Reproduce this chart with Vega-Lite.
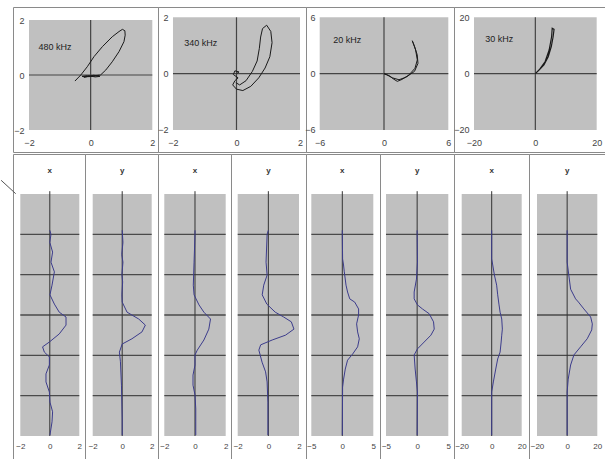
{
  "$schema": "https://vega.github.io/schema/vega-lite/v6.json",
  "padding": {"left": 0, "top": 6, "right": 0, "bottom": 0},
  "background": "white",
  "config": {
    "view": {"stroke": "#8a8a8a", "strokeWidth": 1},
    "concat": {"spacing": 0},
    "axis": {"domain": false, "ticks": false, "grid": false, "labelFontSize": 9, "labelColor": "#444", "labelFlush": false, "labelOverlap": false, "zindex": 1}
  },
  "datasets": {
    "hodo": [
      {"p":1,"i":0,"x":-0.51,"y":-0.22},{"p":1,"i":1,"x":-0.32,"y":0.0},{"p":1,"i":2,"x":-0.11,"y":0.3},{"p":1,"i":3,"x":0.11,"y":0.67},{"p":1,"i":4,"x":0.38,"y":1.03},{"p":1,"i":5,"x":0.7,"y":1.39},{"p":1,"i":6,"x":0.92,"y":1.58},{"p":1,"i":7,"x":1.03,"y":1.66},{"p":1,"i":8,"x":1.11,"y":1.61},{"p":1,"i":9,"x":1.12,"y":1.45},{"p":1,"i":10,"x":1.08,"y":1.21},{"p":1,"i":11,"x":0.92,"y":0.85},{"p":1,"i":12,"x":0.7,"y":0.48},{"p":1,"i":13,"x":0.49,"y":0.18},{"p":1,"i":14,"x":0.32,"y":0.0},{"p":1,"i":15,"x":0.15,"y":-0.04},{"p":1,"i":16,"x":-0.05,"y":-0.06},{"p":1,"i":17,"x":-0.28,"y":-0.05},{"p":1,"i":18,"x":-0.1,"y":-0.02},{"p":1,"i":19,"x":0.15,"y":-0.07},{"p":1,"i":20,"x":0.3,"y":-0.05},{"p":1,"i":21,"x":0.1,"y":-0.01},{"p":1,"i":22,"x":-0.22,"y":-0.08},{"p":1,"i":23,"x":0.05,"y":-0.03},{"p":1,"i":24,"x":0.27,"y":-0.01},
      {"p":2,"i":0,"x":0.0,"y":0.0},{"p":2,"i":1,"x":0.08,"y":0.06},{"p":2,"i":2,"x":-0.05,"y":0.1},{"p":2,"i":3,"x":-0.1,"y":-0.03},{"p":2,"i":4,"x":0.05,"y":-0.15},{"p":2,"i":5,"x":-0.05,"y":-0.25},{"p":2,"i":6,"x":-0.12,"y":-0.4},{"p":2,"i":7,"x":0.0,"y":-0.55},{"p":2,"i":8,"x":0.2,"y":-0.6},{"p":2,"i":9,"x":0.45,"y":-0.45},{"p":2,"i":10,"x":0.7,"y":-0.15},{"p":2,"i":11,"x":0.9,"y":0.2},{"p":2,"i":12,"x":1.05,"y":0.6},{"p":2,"i":13,"x":1.12,"y":1.1},{"p":2,"i":14,"x":1.08,"y":1.5},{"p":2,"i":15,"x":0.95,"y":1.72},{"p":2,"i":16,"x":0.82,"y":1.6},{"p":2,"i":17,"x":0.76,"y":1.3},{"p":2,"i":18,"x":0.72,"y":0.9},{"p":2,"i":19,"x":0.65,"y":0.45},{"p":2,"i":20,"x":0.5,"y":0.08},{"p":2,"i":21,"x":0.3,"y":-0.25},{"p":2,"i":22,"x":0.1,"y":-0.4},{"p":2,"i":23,"x":-0.02,"y":-0.32},
      {"p":3,"i":0,"x":0.0,"y":0.0},{"p":3,"i":1,"x":0.47,"y":-0.21},{"p":3,"i":2,"x":0.93,"y":-0.6},{"p":3,"i":3,"x":1.24,"y":-0.82},{"p":3,"i":4,"x":1.71,"y":-0.6},{"p":3,"i":5,"x":2.33,"y":-0.14},{"p":3,"i":6,"x":2.89,"y":0.57},{"p":3,"i":7,"x":3.11,"y":1.46},{"p":3,"i":8,"x":2.95,"y":2.52},{"p":3,"i":9,"x":2.73,"y":3.23},{"p":3,"i":10,"x":2.64,"y":3.5},{"p":3,"i":11,"x":2.85,"y":2.9},{"p":3,"i":12,"x":3.1,"y":2.0},{"p":3,"i":13,"x":3.17,"y":1.1},{"p":3,"i":14,"x":2.85,"y":0.25},{"p":3,"i":15,"x":2.1,"y":-0.35},{"p":3,"i":16,"x":1.4,"y":-0.65},{"p":3,"i":17,"x":0.8,"y":-0.45},{"p":3,"i":18,"x":0.25,"y":-0.12},{"p":3,"i":19,"x":0.0,"y":0.0},
      {"p":4,"i":0,"x":0.0,"y":0.0},{"p":4,"i":1,"x":1.2,"y":1.3},{"p":4,"i":2,"x":2.8,"y":3.1},{"p":4,"i":3,"x":4.2,"y":6.0},{"p":4,"i":4,"x":5.2,"y":9.6},{"p":4,"i":5,"x":5.8,"y":13.1},{"p":4,"i":6,"x":6.1,"y":15.7},{"p":4,"i":7,"x":5.5,"y":16.1},{"p":4,"i":8,"x":5.3,"y":13.1},{"p":4,"i":9,"x":4.5,"y":8.4},{"p":4,"i":10,"x":3.2,"y":4.3},{"p":4,"i":11,"x":1.4,"y":1.5},{"p":4,"i":12,"x":0.3,"y":0.35}
    ],
    "prof": [
      {"p":1,"y":5.1,"x":0.0},{"p":1,"y":5.0,"x":0.08},{"p":1,"y":4.8,"x":0.0},{"p":1,"y":4.56,"x":0.19},{"p":1,"y":4.31,"x":0.08},{"p":1,"y":4.07,"x":0.31},{"p":1,"y":3.74,"x":0.15},{"p":1,"y":3.5,"x":0.01},{"p":1,"y":3.27,"x":0.31},{"p":1,"y":3.07,"x":0.64},{"p":1,"y":2.95,"x":1.1},{"p":1,"y":2.75,"x":1.1},{"p":1,"y":2.53,"x":0.64},{"p":1,"y":2.33,"x":-0.03},{"p":1,"y":2.21,"x":-0.49},{"p":1,"y":2.08,"x":-0.37},{"p":1,"y":1.96,"x":-0.03},{"p":1,"y":1.76,"x":-0.03},{"p":1,"y":1.54,"x":-0.26},{"p":1,"y":1.34,"x":-0.26},{"p":1,"y":1.09,"x":-0.03},{"p":1,"y":0.84,"x":0.01},{"p":1,"y":0.6,"x":0.19},{"p":1,"y":0.35,"x":0.15},{"p":1,"y":0.02,"x":0.01},
      {"p":2,"y":5.1,"x":0.0},{"p":2,"y":4.8,"x":0.05},{"p":2,"y":4.5,"x":-0.03},{"p":2,"y":4.31,"x":0.05},{"p":2,"y":4.0,"x":-0.02},{"p":2,"y":3.82,"x":0.03},{"p":2,"y":3.5,"x":-0.02},{"p":2,"y":3.32,"x":0.0},{"p":2,"y":3.07,"x":0.33},{"p":2,"y":2.9,"x":1.12},{"p":2,"y":2.75,"x":1.57},{"p":2,"y":2.58,"x":1.34},{"p":2,"y":2.41,"x":0.66},{"p":2,"y":2.28,"x":0.0},{"p":2,"y":2.08,"x":-0.19},{"p":2,"y":1.84,"x":-0.12},{"p":2,"y":1.26,"x":-0.05},{"p":2,"y":0.42,"x":0.0},{"p":2,"y":0.02,"x":0.0},
      {"p":3,"y":5.1,"x":0.0},{"p":3,"y":5.0,"x":0.0},{"p":3,"y":4.31,"x":-0.06},{"p":3,"y":3.74,"x":-0.11},{"p":3,"y":3.5,"x":-0.06},{"p":3,"y":3.25,"x":0.26},{"p":3,"y":3.07,"x":0.58},{"p":3,"y":2.9,"x":1.01},{"p":3,"y":2.65,"x":0.9},{"p":3,"y":2.38,"x":0.58},{"p":3,"y":2.13,"x":0.15},{"p":3,"y":2.01,"x":0.0},{"p":3,"y":1.76,"x":0.0},{"p":3,"y":1.51,"x":-0.13},{"p":3,"y":1.26,"x":-0.13},{"p":3,"y":1.02,"x":0.0},{"p":3,"y":0.67,"x":0.05},{"p":3,"y":0.35,"x":0.05},{"p":3,"y":0.02,"x":0.05},
      {"p":4,"y":5.1,"x":0.0},{"p":4,"y":5.0,"x":-0.08},{"p":4,"y":4.31,"x":-0.15},{"p":4,"y":3.99,"x":-0.08},{"p":4,"y":3.74,"x":-0.3},{"p":4,"y":3.5,"x":-0.4},{"p":4,"y":3.27,"x":-0.1},{"p":4,"y":3.07,"x":0.45},{"p":4,"y":2.95,"x":1.0},{"p":4,"y":2.83,"x":1.5},{"p":4,"y":2.65,"x":1.67},{"p":4,"y":2.5,"x":1.12},{"p":4,"y":2.38,"x":0.25},{"p":4,"y":2.26,"x":-0.5},{"p":4,"y":2.13,"x":-0.62},{"p":4,"y":1.83,"x":-0.41},{"p":4,"y":1.59,"x":-0.18},{"p":4,"y":1.34,"x":-0.08},{"p":4,"y":0.84,"x":-0.03},{"p":4,"y":0.02,"x":-0.03},
      {"p":5,"y":5.1,"x":0.0},{"p":5,"y":5.0,"x":0.0},{"p":5,"y":4.39,"x":0.05},{"p":5,"y":4.24,"x":0.2},{"p":5,"y":4.07,"x":0.32},{"p":5,"y":3.74,"x":0.6},{"p":5,"y":3.57,"x":0.85},{"p":5,"y":3.4,"x":1.2},{"p":5,"y":3.32,"x":2.0},{"p":5,"y":3.15,"x":2.63},{"p":5,"y":3.0,"x":2.63},{"p":5,"y":2.78,"x":2.31},{"p":5,"y":2.58,"x":2.47},{"p":5,"y":2.41,"x":2.74},{"p":5,"y":2.21,"x":2.47},{"p":5,"y":2.03,"x":1.66},{"p":5,"y":1.88,"x":0.85},{"p":5,"y":1.66,"x":0.48},{"p":5,"y":1.41,"x":0.21},{"p":5,"y":1.21,"x":0.05},{"p":5,"y":0.02,"x":0.0},
      {"p":6,"y":5.1,"x":0.0},{"p":6,"y":5.0,"x":0.0},{"p":6,"y":4.31,"x":0.05},{"p":6,"y":3.89,"x":-0.11},{"p":6,"y":3.57,"x":-0.48},{"p":6,"y":3.4,"x":-0.48},{"p":6,"y":3.25,"x":0.05},{"p":6,"y":3.15,"x":0.85},{"p":6,"y":3.03,"x":1.94},{"p":6,"y":2.83,"x":2.63},{"p":6,"y":2.65,"x":2.74},{"p":6,"y":2.5,"x":2.21},{"p":6,"y":2.33,"x":1.13},{"p":6,"y":2.16,"x":0.05},{"p":6,"y":2.01,"x":-0.48},{"p":6,"y":1.66,"x":-0.32},{"p":6,"y":1.34,"x":-0.11},{"p":6,"y":1.09,"x":0.05},{"p":6,"y":0.02,"x":0.0},
      {"p":7,"y":5.1,"x":0.0},{"p":7,"y":5.0,"x":0.0},{"p":7,"y":4.39,"x":0.0},{"p":7,"y":4.24,"x":0.7},{"p":7,"y":3.99,"x":1.8},{"p":7,"y":3.74,"x":3.3},{"p":7,"y":3.5,"x":4.0},{"p":7,"y":3.25,"x":4.9},{"p":7,"y":3.07,"x":5.6},{"p":7,"y":2.9,"x":6.7},{"p":7,"y":2.65,"x":7.1},{"p":7,"y":2.5,"x":6.7},{"p":7,"y":2.33,"x":6.3},{"p":7,"y":2.08,"x":5.6},{"p":7,"y":1.91,"x":4.0},{"p":7,"y":1.66,"x":2.7},{"p":7,"y":1.34,"x":1.1},{"p":7,"y":1.09,"x":0.0},{"p":7,"y":0.02,"x":0.0},
      {"p":8,"y":5.1,"x":0.0},{"p":8,"y":5.0,"x":0.0},{"p":8,"y":4.31,"x":0.0},{"p":8,"y":3.99,"x":1.1},{"p":8,"y":3.64,"x":2.3},{"p":8,"y":3.4,"x":5.6},{"p":8,"y":3.32,"x":7.5},{"p":8,"y":3.15,"x":11.1},{"p":8,"y":2.95,"x":15.6},{"p":8,"y":2.78,"x":16.7},{"p":8,"y":2.63,"x":16.3},{"p":8,"y":2.41,"x":13.3},{"p":8,"y":2.21,"x":8.9},{"p":8,"y":2.01,"x":4.5},{"p":8,"y":1.76,"x":2.3},{"p":8,"y":1.41,"x":0.7},{"p":8,"y":1.09,"x":0.0},{"p":8,"y":0.02,"x":0.0}
    ]
  },
  "vconcat": [
    {
      "spacing": 0,
      "bounds": "flush",
      "hconcat": [
        {
          "width": 145, "height": 145,
          "encoding": {
            "x": {"field": "x", "type": "quantitative", "title": null, "scale": {"domain": [-2.519, 2.185], "nice": false, "zero": false}, "axis": {"values": [-2, 0, 2], "offset": -22, "labelPadding": 8}},
            "y": {"field": "y", "type": "quantitative", "title": null, "scale": {"domain": [-2.8, 2.473], "nice": false, "zero": false}, "axis": {"values": [-2, 0, 2], "offset": -16, "labelPadding": 5}}
          },
          "layer": [
            {"data": {"values": [{"x": -2, "x2": 2, "y": -2, "y2": 2}]}, "mark": {"type": "rect", "color": "#c0c0c0"}, "encoding": {"x2": {"field": "x2"}, "y2": {"field": "y2"}}},
            {"data": {"values": [{"x": 0, "y": -2, "y2": 2}]}, "mark": {"type": "rule", "color": "#444", "strokeWidth": 1.2}, "encoding": {"y2": {"field": "y2"}}},
            {"data": {"values": [{"x": -2, "x2": 2, "y": 0}]}, "mark": {"type": "rule", "color": "#444", "strokeWidth": 1.2}, "encoding": {"x2": {"field": "x2"}}},
            {"data": {"name": "hodo"}, "transform": [{"filter": "datum.p == 1"}], "mark": {"type": "line", "color": "#1a1a1a", "strokeWidth": 1}, "encoding": {"order": {"field": "i", "type": "quantitative"}}},
            {"data": {"values": [{"x": -1.157, "y": 1.018, "t": "480 kHz"}]}, "mark": {"type": "text", "fontSize": 9, "font": "Liberation Sans", "color": "#222"}, "encoding": {"text": {"field": "t"}}}
          ]
        },
        {
          "width": 148, "height": 145,
          "encoding": {
            "x": {"field": "x", "type": "quantitative", "title": null, "scale": {"domain": [-2.472, 2.189], "nice": false, "zero": false}, "axis": {"values": [-2, 0, 2], "offset": -22, "labelPadding": 8}},
            "y": {"field": "y", "type": "quantitative", "title": null, "scale": {"domain": [-2.781, 2.366], "nice": false, "zero": false}, "axis": {"values": [-2, 0, 2], "offset": -15, "labelPadding": 5}}
          },
          "layer": [
            {"data": {"values": [{"x": -2, "x2": 2, "y": -2, "y2": 2}]}, "mark": {"type": "rect", "color": "#c0c0c0"}, "encoding": {"x2": {"field": "x2"}, "y2": {"field": "y2"}}},
            {"data": {"values": [{"x": 0, "y": -2, "y2": 2}]}, "mark": {"type": "rule", "color": "#444", "strokeWidth": 1.2}, "encoding": {"y2": {"field": "y2"}}},
            {"data": {"values": [{"x": -2, "x2": 2, "y": 0}]}, "mark": {"type": "rule", "color": "#444", "strokeWidth": 1.2}, "encoding": {"x2": {"field": "x2"}}},
            {"data": {"name": "hodo"}, "transform": [{"filter": "datum.p == 2"}], "mark": {"type": "line", "color": "#1a1a1a", "strokeWidth": 1}, "encoding": {"order": {"field": "i", "type": "quantitative"}}},
            {"data": {"values": [{"x": -1.127, "y": 1.088, "t": "340 kHz"}]}, "mark": {"type": "text", "fontSize": 9, "font": "Liberation Sans", "color": "#222"}, "encoding": {"text": {"field": "t"}}}
          ]
        },
        {
          "width": 148, "height": 145,
          "encoding": {
            "x": {"field": "x", "type": "quantitative", "title": null, "scale": {"domain": [-7.278, 6.532], "nice": false, "zero": false}, "axis": {"values": [-6, 0, 6], "offset": -22, "labelPadding": 8}},
            "y": {"field": "y", "type": "quantitative", "title": null, "scale": {"domain": [-8.343, 7.097], "nice": false, "zero": false}, "axis": {"values": [-6, 0, 6], "offset": -14, "labelPadding": 5}}
          },
          "layer": [
            {"data": {"values": [{"x": -6, "x2": 6, "y": -6, "y2": 6}]}, "mark": {"type": "rect", "color": "#c0c0c0"}, "encoding": {"x2": {"field": "x2"}, "y2": {"field": "y2"}}},
            {"data": {"values": [{"x": 0, "y": -6, "y2": 6}]}, "mark": {"type": "rule", "color": "#444", "strokeWidth": 1.2}, "encoding": {"y2": {"field": "y2"}}},
            {"data": {"values": [{"x": -6, "x2": 6, "y": 0}]}, "mark": {"type": "rule", "color": "#444", "strokeWidth": 1.2}, "encoding": {"x2": {"field": "x2"}}},
            {"data": {"name": "hodo"}, "transform": [{"filter": "datum.p == 3"}], "mark": {"type": "line", "color": "#1a1a1a", "strokeWidth": 1}, "encoding": {"order": {"field": "i", "type": "quantitative"}}},
            {"data": {"values": [{"x": -3.425, "y": 3.583, "t": "20 kHz"}]}, "mark": {"type": "text", "fontSize": 9, "font": "Liberation Sans", "color": "#222"}, "encoding": {"text": {"field": "t"}}}
          ]
        },
        {
          "width": 151, "height": 145,
          "encoding": {
            "x": {"field": "x", "type": "quantitative", "title": null, "scale": {"domain": [-26.52, 22.71], "nice": false, "zero": false}, "axis": {"values": [-20, 0, 20], "offset": -22, "labelPadding": 8}},
            "y": {"field": "y", "type": "quantitative", "title": null, "scale": {"domain": [-27.81, 23.66], "nice": false, "zero": false}, "axis": {"values": [-20, 0, 20], "offset": -20, "labelPadding": 5}}
          },
          "layer": [
            {"data": {"values": [{"x": -20, "x2": 20, "y": -20, "y2": 20}]}, "mark": {"type": "rect", "color": "#c0c0c0"}, "encoding": {"x2": {"field": "x2"}, "y2": {"field": "y2"}}},
            {"data": {"values": [{"x": 0, "y": -20, "y2": 20}]}, "mark": {"type": "rule", "color": "#444", "strokeWidth": 1.2}, "encoding": {"y2": {"field": "y2"}}},
            {"data": {"values": [{"x": -20, "x2": 20, "y": 0}]}, "mark": {"type": "rule", "color": "#444", "strokeWidth": 1.2}, "encoding": {"x2": {"field": "x2"}}},
            {"data": {"name": "hodo"}, "transform": [{"filter": "datum.p == 4"}], "mark": {"type": "line", "color": "#1a1a1a", "strokeWidth": 1.2}, "encoding": {"order": {"field": "i", "type": "quantitative"}}},
            {"data": {"values": [{"x": -11.75, "y": 12.2, "t": "30 kHz"}]}, "mark": {"type": "text", "fontSize": 9, "font": "Liberation Sans", "color": "#222"}, "encoding": {"text": {"field": "t"}}}
          ]
        }
      ]
    },
    {
      "spacing": 0,
      "bounds": "flush",
      "hconcat": [
        {
          "width": 72, "height": 308,
          "encoding": {
            "x": {"field": "x", "type": "quantitative", "title": null, "scale": {"domain": [-2.495, 2.386], "nice": false, "zero": false}, "axis": {"values": [-2, 0, 2], "offset": -26, "labelPadding": 6, "labelFontSize": 8}},
            "y": {"field": "y", "type": "quantitative", "title": null, "scale": {"domain": [-0.645, 6.992], "nice": false, "zero": false}, "axis": null}
          },
          "layer": [
            {"data": {"values": [{"x": -2, "x2": 2, "y": 0, "y2": 6}]}, "mark": {"type": "rect", "color": "#c0c0c0"}, "encoding": {"x2": {"field": "x2"}, "y2": {"field": "y2"}}},
            {"data": {"values": [{"x": -2, "x2": 2, "y": 1}, {"x": -2, "x2": 2, "y": 2}, {"x": -2, "x2": 2, "y": 3}, {"x": -2, "x2": 2, "y": 4}, {"x": -2, "x2": 2, "y": 5}]}, "mark": {"type": "rule", "color": "#4a4a4a", "strokeWidth": 1.3}, "encoding": {"x2": {"field": "x2"}}},
            {"data": {"values": [{"x": 0, "y": 0, "y2": 6.07}]}, "mark": {"type": "rule", "color": "#333", "strokeWidth": 1}, "encoding": {"y2": {"field": "y2"}}},
            {"data": {"name": "prof"}, "transform": [{"filter": "datum.p == 1"}], "mark": {"type": "line", "color": "#3c3c8c", "strokeWidth": 1}, "encoding": {"order": {"field": "y", "type": "quantitative"}}},
            {"data": {"values": [{"x": -3.3, "y": 6.34}, {"x": -2.312, "y": 6.008}]}, "mark": {"type": "line", "color": "#555", "strokeWidth": 1, "strokeJoin": "round"}, "encoding": {}},
            {"data": {"values": [{"x": 0, "y": 6.57, "t": "x"}]}, "mark": {"type": "text", "fontSize": 8, "fontWeight": "bold", "color": "#333"}, "encoding": {"text": {"field": "t"}}}
          ]
        },
        {
          "width": 73, "height": 308,
          "encoding": {
            "x": {"field": "x", "type": "quantitative", "title": null, "scale": {"domain": [-2.522, 2.427], "nice": false, "zero": false}, "axis": {"values": [-2, 0, 2], "offset": -26, "labelPadding": 6, "labelFontSize": 8}},
            "y": {"field": "y", "type": "quantitative", "title": null, "scale": {"domain": [-0.645, 6.992], "nice": false, "zero": false}, "axis": null}
          },
          "layer": [
            {"data": {"values": [{"x": -2, "x2": 2, "y": 0, "y2": 6}]}, "mark": {"type": "rect", "color": "#c0c0c0"}, "encoding": {"x2": {"field": "x2"}, "y2": {"field": "y2"}}},
            {"data": {"values": [{"x": -2, "x2": 2, "y": 1}, {"x": -2, "x2": 2, "y": 2}, {"x": -2, "x2": 2, "y": 3}, {"x": -2, "x2": 2, "y": 4}, {"x": -2, "x2": 2, "y": 5}]}, "mark": {"type": "rule", "color": "#4a4a4a", "strokeWidth": 1.3}, "encoding": {"x2": {"field": "x2"}}},
            {"data": {"values": [{"x": 0, "y": 0, "y2": 6.07}]}, "mark": {"type": "rule", "color": "#333", "strokeWidth": 1}, "encoding": {"y2": {"field": "y2"}}},
            {"data": {"name": "prof"}, "transform": [{"filter": "datum.p == 2"}], "mark": {"type": "line", "color": "#3c3c8c", "strokeWidth": 1}, "encoding": {"order": {"field": "y", "type": "quantitative"}}},
            {"data": {"values": [{"x": 0, "y": 6.57, "t": "y"}]}, "mark": {"type": "text", "fontSize": 8, "fontWeight": "bold", "color": "#333"}, "encoding": {"text": {"field": "t"}}}
          ]
        },
        {
          "width": 73, "height": 308,
          "encoding": {
            "x": {"field": "x", "type": "quantitative", "title": null, "scale": {"domain": [-2.41, 2.345], "nice": false, "zero": false}, "axis": {"values": [-2, 0, 2], "offset": -26, "labelPadding": 6, "labelFontSize": 8}},
            "y": {"field": "y", "type": "quantitative", "title": null, "scale": {"domain": [-0.645, 6.992], "nice": false, "zero": false}, "axis": null}
          },
          "layer": [
            {"data": {"values": [{"x": -2, "x2": 2, "y": 0, "y2": 6}]}, "mark": {"type": "rect", "color": "#c0c0c0"}, "encoding": {"x2": {"field": "x2"}, "y2": {"field": "y2"}}},
            {"data": {"values": [{"x": -2, "x2": 2, "y": 1}, {"x": -2, "x2": 2, "y": 2}, {"x": -2, "x2": 2, "y": 3}, {"x": -2, "x2": 2, "y": 4}, {"x": -2, "x2": 2, "y": 5}]}, "mark": {"type": "rule", "color": "#4a4a4a", "strokeWidth": 1.3}, "encoding": {"x2": {"field": "x2"}}},
            {"data": {"values": [{"x": 0, "y": 0, "y2": 6.07}]}, "mark": {"type": "rule", "color": "#333", "strokeWidth": 1}, "encoding": {"y2": {"field": "y2"}}},
            {"data": {"name": "prof"}, "transform": [{"filter": "datum.p == 3"}], "mark": {"type": "line", "color": "#3c3c8c", "strokeWidth": 1}, "encoding": {"order": {"field": "y", "type": "quantitative"}}},
            {"data": {"values": [{"x": 0, "y": 6.57, "t": "x"}]}, "mark": {"type": "text", "fontSize": 8, "fontWeight": "bold", "color": "#333"}, "encoding": {"text": {"field": "t"}}}
          ]
        },
        {
          "width": 75, "height": 308,
          "encoding": {
            "x": {"field": "x", "type": "quantitative", "title": null, "scale": {"domain": [-2.437, 2.457], "nice": false, "zero": false}, "axis": {"values": [-2, 0, 2], "offset": -26, "labelPadding": 6, "labelFontSize": 8}},
            "y": {"field": "y", "type": "quantitative", "title": null, "scale": {"domain": [-0.645, 6.992], "nice": false, "zero": false}, "axis": null}
          },
          "layer": [
            {"data": {"values": [{"x": -2, "x2": 2, "y": 0, "y2": 6}]}, "mark": {"type": "rect", "color": "#c0c0c0"}, "encoding": {"x2": {"field": "x2"}, "y2": {"field": "y2"}}},
            {"data": {"values": [{"x": -2, "x2": 2, "y": 1}, {"x": -2, "x2": 2, "y": 2}, {"x": -2, "x2": 2, "y": 3}, {"x": -2, "x2": 2, "y": 4}, {"x": -2, "x2": 2, "y": 5}]}, "mark": {"type": "rule", "color": "#4a4a4a", "strokeWidth": 1.3}, "encoding": {"x2": {"field": "x2"}}},
            {"data": {"values": [{"x": 0, "y": 0, "y2": 6.07}]}, "mark": {"type": "rule", "color": "#333", "strokeWidth": 1}, "encoding": {"y2": {"field": "y2"}}},
            {"data": {"name": "prof"}, "transform": [{"filter": "datum.p == 4"}], "mark": {"type": "line", "color": "#3c3c8c", "strokeWidth": 1}, "encoding": {"order": {"field": "y", "type": "quantitative"}}},
            {"data": {"values": [{"x": 0, "y": 6.57, "t": "y"}]}, "mark": {"type": "text", "fontSize": 8, "fontWeight": "bold", "color": "#333"}, "encoding": {"text": {"field": "t"}}}
          ]
        },
        {
          "width": 74, "height": 308,
          "encoding": {
            "x": {"field": "x", "type": "quantitative", "title": null, "scale": {"domain": [-5.855, 6.081], "nice": false, "zero": false}, "axis": {"values": [-5, 0, 5], "offset": -26, "labelPadding": 6, "labelFontSize": 8}},
            "y": {"field": "y", "type": "quantitative", "title": null, "scale": {"domain": [-0.645, 6.992], "nice": false, "zero": false}, "axis": null}
          },
          "layer": [
            {"data": {"values": [{"x": -5, "x2": 5, "y": 0, "y2": 6}]}, "mark": {"type": "rect", "color": "#c0c0c0"}, "encoding": {"x2": {"field": "x2"}, "y2": {"field": "y2"}}},
            {"data": {"values": [{"x": -5, "x2": 5, "y": 1}, {"x": -5, "x2": 5, "y": 2}, {"x": -5, "x2": 5, "y": 3}, {"x": -5, "x2": 5, "y": 4}, {"x": -5, "x2": 5, "y": 5}]}, "mark": {"type": "rule", "color": "#4a4a4a", "strokeWidth": 1.3}, "encoding": {"x2": {"field": "x2"}}},
            {"data": {"values": [{"x": 0, "y": 0, "y2": 6.07}]}, "mark": {"type": "rule", "color": "#333", "strokeWidth": 1}, "encoding": {"y2": {"field": "y2"}}},
            {"data": {"name": "prof"}, "transform": [{"filter": "datum.p == 5"}], "mark": {"type": "line", "color": "#3c3c8c", "strokeWidth": 1}, "encoding": {"order": {"field": "y", "type": "quantitative"}}},
            {"data": {"values": [{"x": 0, "y": 6.57, "t": "x"}]}, "mark": {"type": "text", "fontSize": 8, "fontWeight": "bold", "color": "#333"}, "encoding": {"text": {"field": "t"}}}
          ]
        },
        {
          "width": 74, "height": 308,
          "encoding": {
            "x": {"field": "x", "type": "quantitative", "title": null, "scale": {"domain": [-5.963, 5.915], "nice": false, "zero": false}, "axis": {"values": [-5, 0, 5], "offset": -26, "labelPadding": 6, "labelFontSize": 8}},
            "y": {"field": "y", "type": "quantitative", "title": null, "scale": {"domain": [-0.645, 6.992], "nice": false, "zero": false}, "axis": null}
          },
          "layer": [
            {"data": {"values": [{"x": -5, "x2": 5, "y": 0, "y2": 6}]}, "mark": {"type": "rect", "color": "#c0c0c0"}, "encoding": {"x2": {"field": "x2"}, "y2": {"field": "y2"}}},
            {"data": {"values": [{"x": -5, "x2": 5, "y": 1}, {"x": -5, "x2": 5, "y": 2}, {"x": -5, "x2": 5, "y": 3}, {"x": -5, "x2": 5, "y": 4}, {"x": -5, "x2": 5, "y": 5}]}, "mark": {"type": "rule", "color": "#4a4a4a", "strokeWidth": 1.3}, "encoding": {"x2": {"field": "x2"}}},
            {"data": {"values": [{"x": 0, "y": 0, "y2": 6.07}]}, "mark": {"type": "rule", "color": "#333", "strokeWidth": 1}, "encoding": {"y2": {"field": "y2"}}},
            {"data": {"name": "prof"}, "transform": [{"filter": "datum.p == 6"}], "mark": {"type": "line", "color": "#3c3c8c", "strokeWidth": 1}, "encoding": {"order": {"field": "y", "type": "quantitative"}}},
            {"data": {"values": [{"x": 0, "y": 6.57, "t": "y"}]}, "mark": {"type": "text", "fontSize": 8, "fontWeight": "bold", "color": "#333"}, "encoding": {"text": {"field": "t"}}}
          ]
        },
        {
          "width": 75, "height": 308,
          "encoding": {
            "x": {"field": "x", "type": "quantitative", "title": null, "scale": {"domain": [-25.13, 24.87], "nice": false, "zero": false}, "axis": {"values": [-20, 0, 20], "offset": -26, "labelPadding": 6, "labelFontSize": 8}},
            "y": {"field": "y", "type": "quantitative", "title": null, "scale": {"domain": [-0.645, 6.992], "nice": false, "zero": false}, "axis": null}
          },
          "layer": [
            {"data": {"values": [{"x": -20, "x2": 20, "y": 0, "y2": 6}]}, "mark": {"type": "rect", "color": "#c0c0c0"}, "encoding": {"x2": {"field": "x2"}, "y2": {"field": "y2"}}},
            {"data": {"values": [{"x": -20, "x2": 20, "y": 1}, {"x": -20, "x2": 20, "y": 2}, {"x": -20, "x2": 20, "y": 3}, {"x": -20, "x2": 20, "y": 4}, {"x": -20, "x2": 20, "y": 5}]}, "mark": {"type": "rule", "color": "#4a4a4a", "strokeWidth": 1.3}, "encoding": {"x2": {"field": "x2"}}},
            {"data": {"values": [{"x": 0, "y": 0, "y2": 6.07}]}, "mark": {"type": "rule", "color": "#333", "strokeWidth": 1}, "encoding": {"y2": {"field": "y2"}}},
            {"data": {"name": "prof"}, "transform": [{"filter": "datum.p == 7"}], "mark": {"type": "line", "color": "#3c3c8c", "strokeWidth": 1}, "encoding": {"order": {"field": "y", "type": "quantitative"}}},
            {"data": {"values": [{"x": 0, "y": 6.57, "t": "x"}]}, "mark": {"type": "text", "fontSize": 8, "fontWeight": "bold", "color": "#333"}, "encoding": {"text": {"field": "t"}}}
          ]
        },
        {
          "width": 76, "height": 308,
          "encoding": {
            "x": {"field": "x", "type": "quantitative", "title": null, "scale": {"domain": [-25.31, 25.11], "nice": false, "zero": false}, "axis": {"values": [-20, 0, 20], "offset": -26, "labelPadding": 6, "labelFontSize": 8}},
            "y": {"field": "y", "type": "quantitative", "title": null, "scale": {"domain": [-0.645, 6.992], "nice": false, "zero": false}, "axis": null}
          },
          "layer": [
            {"data": {"values": [{"x": -20, "x2": 20, "y": 0, "y2": 6}]}, "mark": {"type": "rect", "color": "#c0c0c0"}, "encoding": {"x2": {"field": "x2"}, "y2": {"field": "y2"}}},
            {"data": {"values": [{"x": -20, "x2": 20, "y": 1}, {"x": -20, "x2": 20, "y": 2}, {"x": -20, "x2": 20, "y": 3}, {"x": -20, "x2": 20, "y": 4}, {"x": -20, "x2": 20, "y": 5}]}, "mark": {"type": "rule", "color": "#4a4a4a", "strokeWidth": 1.3}, "encoding": {"x2": {"field": "x2"}}},
            {"data": {"values": [{"x": 0, "y": 0, "y2": 6.07}]}, "mark": {"type": "rule", "color": "#333", "strokeWidth": 1}, "encoding": {"y2": {"field": "y2"}}},
            {"data": {"name": "prof"}, "transform": [{"filter": "datum.p == 8"}], "mark": {"type": "line", "color": "#3c3c8c", "strokeWidth": 1}, "encoding": {"order": {"field": "y", "type": "quantitative"}}},
            {"data": {"values": [{"x": 0, "y": 6.57, "t": "y"}]}, "mark": {"type": "text", "fontSize": 8, "fontWeight": "bold", "color": "#333"}, "encoding": {"text": {"field": "t"}}}
          ]
        }
      ]
    }
  ]
}
